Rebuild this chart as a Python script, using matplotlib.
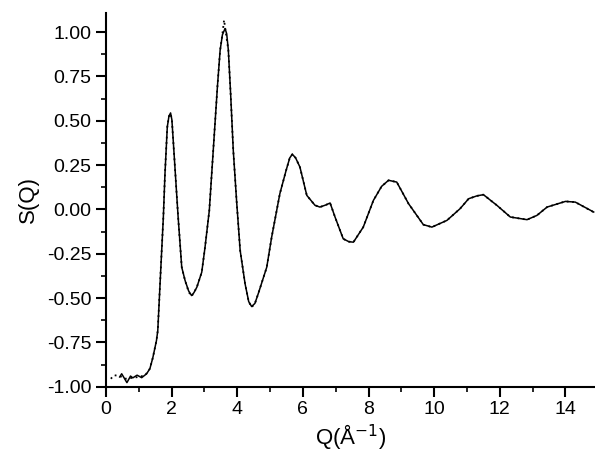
import numpy as np
import matplotlib.pyplot as plt
from matplotlib.ticker import MultipleLocator

plt.rcParams['font.family'] = ['Liberation Sans', 'DejaVu Sans']

# model curve (solid)
q_fit = [0.42, 0.48, 0.64, 0.75, 0.82, 0.95, 1.09, 1.24, 1.34, 1.43, 1.54, 1.58,
         1.66, 1.75, 1.80, 1.87, 1.92, 1.97, 2.01, 2.07, 2.20, 2.31, 2.41, 2.52,
         2.61, 2.68, 2.77, 2.92, 3.02, 3.15, 3.27, 3.40, 3.48, 3.55, 3.63, 3.68,
         3.73, 3.80, 3.88, 3.98, 4.09, 4.24, 4.35, 4.44, 4.54, 4.64, 4.90, 5.05,
         5.30, 5.49, 5.60, 5.68, 5.78, 5.91, 6.12, 6.37, 6.52, 6.70, 6.83, 6.98,
         7.23, 7.40, 7.54, 7.84, 8.15, 8.40, 8.61, 8.86, 9.22, 9.67, 9.93,
         10.39, 10.79, 11.05, 11.30, 11.50, 11.91, 12.32, 12.83, 13.13, 13.44,
         14.00, 14.30, 14.86]
s_fit = [-0.945, -0.927, -0.977, -0.940, -0.950, -0.935, -0.949, -0.927, -0.898,
         -0.836, -0.740, -0.684, -0.380, -0.043, 0.203, 0.465, 0.525, 0.544,
         0.505, 0.333, -0.043, -0.326, -0.400, -0.460, -0.486, -0.470, -0.439,
         -0.354, -0.213, -0.006, 0.333, 0.700, 0.898, 0.985, 1.020, 0.990, 0.898,
         0.650, 0.333, 0.051, -0.232, -0.420, -0.520, -0.548, -0.530, -0.476,
         -0.326, -0.156, 0.089, 0.220, 0.290, 0.311, 0.290, 0.239, 0.079, 0.023,
         0.013, 0.025, 0.036, -0.043, -0.166, -0.182, -0.185, -0.100, 0.051,
         0.130, 0.164, 0.154, 0.032, -0.086, -0.100, -0.062, 0.004, 0.060,
         0.076, 0.083, 0.023, -0.043, -0.058, -0.034, 0.013, 0.045, 0.041,
         -0.015]

# experimental curve (dotted)
q_exp = [0.15, 0.25, 0.42, 0.60, 0.80, 1.00, 1.20, 1.34, 1.43, 1.54, 1.58,
         1.66, 1.75, 1.80, 1.87, 1.92, 1.97, 2.01, 2.07, 2.20, 2.31, 2.41, 2.52,
         2.61, 2.68, 2.77, 2.92, 3.02, 3.15, 3.27, 3.40, 3.48, 3.55, 3.60, 3.65,
         3.73, 3.80, 3.88, 3.98, 4.09, 4.24, 4.35, 4.44, 4.54, 4.64, 4.90, 5.05,
         5.30, 5.49, 5.60, 5.68, 5.78, 5.91, 6.12, 6.37, 6.52, 6.70, 6.83, 6.98,
         7.23, 7.40, 7.54, 7.84, 8.15, 8.40, 8.61, 8.86, 9.22, 9.67, 9.93,
         10.39, 10.79, 11.05, 11.30, 11.50, 11.91, 12.32, 12.83, 13.13, 13.44,
         14.00, 14.30, 14.90]
s_exp = [-0.955, -0.935, -0.940, -0.955, -0.950, -0.945, -0.935, -0.898,
         -0.836, -0.740, -0.684, -0.380, -0.043, 0.203, 0.465, 0.525, 0.540,
         0.505, 0.333, -0.043, -0.326, -0.400, -0.465, -0.490, -0.470, -0.439,
         -0.354, -0.213, -0.006, 0.333, 0.700, 0.898, 0.990, 1.068, 1.000,
         0.898, 0.650, 0.333, 0.051, -0.232, -0.420, -0.520, -0.552, -0.530,
         -0.476, -0.326, -0.156, 0.089, 0.220, 0.290, 0.311, 0.290, 0.239,
         0.079, 0.023, 0.013, 0.025, 0.036, -0.043, -0.166, -0.182, -0.185,
         -0.100, 0.051, 0.130, 0.164, 0.154, 0.032, -0.086, -0.100, -0.062,
         0.004, 0.060, 0.076, 0.083, 0.023, -0.043, -0.058, -0.034, 0.013,
         0.045, 0.041, -0.020]

fig = plt.figure(figsize=(5.95, 4.59), dpi=100)
ax = fig.add_axes([0.178, 0.1575, 0.822, 0.814])

ax.plot(q_exp, s_exp, color='black', lw=1.3, linestyle=(0, (1, 2)))
ax.plot(q_fit, s_fit, color='black', lw=1.1)

ax.set_xlim(0, 14.9)
ax.set_ylim(-1.0, 1.107)
ax.xaxis.set_major_locator(MultipleLocator(2))
ax.xaxis.set_minor_locator(MultipleLocator(1))
ax.yaxis.set_major_locator(MultipleLocator(0.25))
ax.yaxis.set_minor_locator(MultipleLocator(0.125))
ax.yaxis.set_major_formatter(plt.FuncFormatter(lambda v, p: f'{v:.2f}'))

for side in ['top', 'right']:
    ax.spines[side].set_visible(False)
for side in ['left', 'bottom']:
    ax.spines[side].set_linewidth(1.5)

ax.tick_params(which='major', direction='out', length=7, width=1.5, labelsize=14)
ax.tick_params(which='minor', direction='out', length=3.5, width=1.2)

ax.set_xlabel(r'Q(Å$^{-1}$)', fontsize=16, labelpad=3)
ax.set_ylabel('S(Q)', fontsize=16, labelpad=6)

fig.savefig('out.png', dpi=100)
